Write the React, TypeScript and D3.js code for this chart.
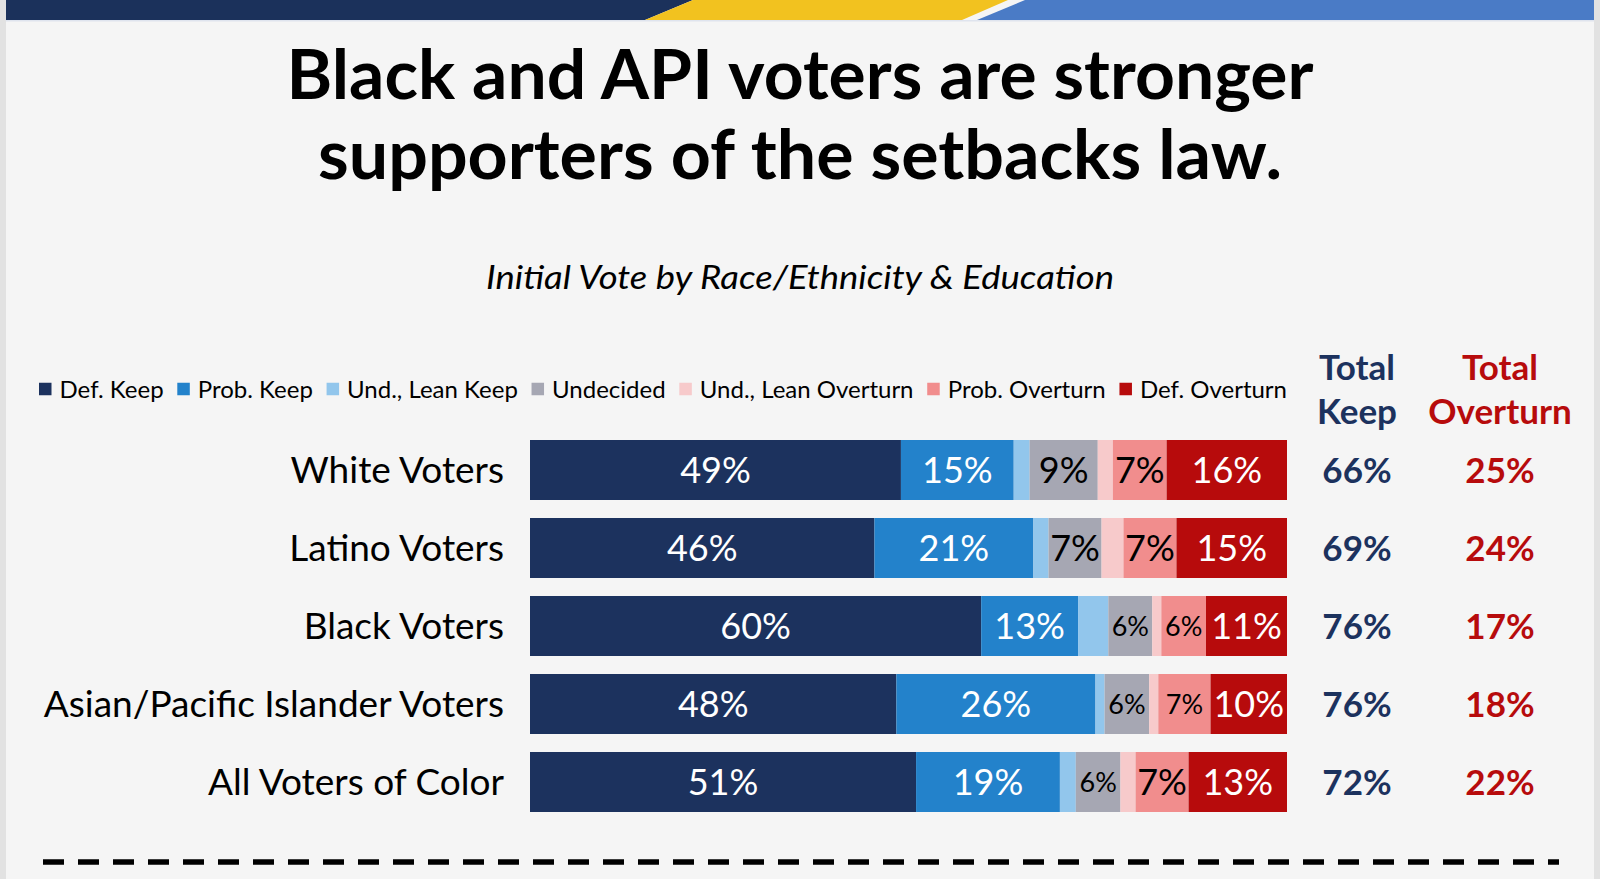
import React, { useEffect, useRef } from "react";
import * as d3 from "d3";

const categories = [
  "White Voters",
  "Latino Voters",
  "Black Voters",
  "Asian/Pacific Islander Voters",
  "All Voters of Color",
];
const seriesNames = [
  "Def. Keep",
  "Prob. Keep",
  "Und., Lean Keep",
  "Undecided",
  "Und., Lean Overturn",
  "Prob. Overturn",
  "Def. Overturn",
];
const defKeep = [49.0, 45.5, 59.6, 48.4, 51.0];
const probKeep = [14.9, 21.0, 12.8, 26.3, 19.0];
const leanKeep = [2.1, 2.0, 4.0, 1.2, 2.1];
const undecided = [9.0, 7.0, 5.8, 5.9, 5.9];
const leanOverturn = [2.0, 2.9, 1.2, 1.2, 2.0];
const probOverturn = [7.1, 7.0, 5.9, 6.9, 7.0];
const defOverturn = [15.9, 14.6, 10.7, 10.1, 13.0];
const totalKeep = [66, 69, 76, 76, 72];
const totalOverturn = [25, 24, 17, 18, 22];

const titleLines = ["Black and API voters are stronger", "supporters of the setbacks law."];
const subtitle = "Initial Vote by Race/Ethnicity & Education";

const seriesColors = ["#1c325e", "#2382cb", "#92c6ec", "#a6a7b3", "#f7cacb", "#f18d8d", "#b70b0c"];
const labelColors = ["#ffffff", "#ffffff", null, "#000000", null, "#000000", "#ffffff"];
const NAVY = "#1c325e";
const RED = "#b70b0c";
const FONT = "Lato, 'Open Sans', sans-serif";

export default function App() {
  const ref = useRef<SVGSVGElement | null>(null);

  useEffect(() => {
    const svg = d3.select(ref.current);
    svg.selectAll("*").remove();
    const W = 1600, H = 879;

    // background
    svg.append("rect").attr("width", W).attr("height", H).attr("fill", "#e2e2e2");
    svg.append("rect").attr("x", 6).attr("y", 0).attr("width", 1588).attr("height", H).attr("fill", "#f5f5f5");

    // banner
    svg.append("polygon").attr("points", "6,0 693,0 645,20 6,20").attr("fill", "#1b315b");
    svg.append("polygon").attr("points", "693,0 1008,0 962,20 645,20").attr("fill", "#f2c21f");
    svg.append("polygon").attr("points", "1025,0 1594,0 1594,20 977,20").attr("fill", "#4a7bc6");
    svg.append("rect").attr("x", 6).attr("y", 20).attr("width", 1588).attr("height", 1.5).attr("fill", "#dfe4ee");

    // title
    const title = svg.append("g").attr("font-family", FONT).attr("font-weight", 700).attr("fill", "#000");
    const titleBaselines = [99, 179];
    const titleWidths = [1027, 964];
    titleLines.forEach((t, i) => {
      title.append("text")
        .attr("x", 800).attr("y", titleBaselines[i])
        .attr("text-anchor", "middle")
        .attr("font-size", 68)
        .attr("textLength", titleWidths[i])
        .attr("lengthAdjust", "spacingAndGlyphs")
        .text(t);
    });
    svg.append("text")
      .attr("x", 800).attr("y", 289)
      .attr("text-anchor", "middle")
      .attr("font-family", FONT).attr("font-style", "italic")
      .attr("font-size", 33)
      .attr("textLength", 628).attr("lengthAdjust", "spacingAndGlyphs")
      .text(subtitle);

    // data
    const series = [defKeep, probKeep, leanKeep, undecided, leanOverturn, probOverturn, defOverturn];
    const rows = categories.map((c, i) => {
      const r: any = { category: c };
      seriesNames.forEach((s, j) => (r[s] = series[j][i]));
      return r;
    });
    const stacked = d3.stack().keys(seriesNames)(rows);

    const x = d3.scaleLinear().domain([0, 100]).range([530, 1287]);
    const y = d3.scaleBand().domain(categories).range([431, 821]).paddingInner(0.2308).paddingOuter(0.1154);
    const bw = y.bandwidth();

    const bars = svg.append("g");
    stacked.forEach((layer, j) => {
      const g = bars.append("g").attr("fill", seriesColors[j]);
      g.selectAll("rect").data(layer).join("rect")
        .attr("x", (d: any) => x(d[0]))
        .attr("y", (d: any) => y(d.data.category)!)
        .attr("width", (d: any) => x(d[1]) - x(d[0]))
        .attr("height", bw);
      if (labelColors[j]) {
        bars.append("g").selectAll("text").data(layer).join("text")
          .attr("x", (d: any) => (x(d[0]) + x(d[1])) / 2)
          .attr("y", (d: any) => {
            const fs = d[1] - d[0] < 7 ? 27 : 36;
            return y(d.data.category)! + bw / 2 + fs * 0.36;
          })
          .attr("text-anchor", "middle")
          .attr("font-family", FONT)
          .attr("font-size", (d: any) => (d[1] - d[0] < 7 ? 27 : 36))
          .attr("fill", labelColors[j]!)
          .text((d: any) => `${Math.round(d[1] - d[0])}%`);
      }
    });

    // row labels
    svg.append("g").selectAll("text").data(categories).join("text")
      .attr("x", 504)
      .attr("y", (d) => y(d)! + bw / 2 + 13)
      .attr("text-anchor", "end")
      .attr("font-family", FONT)
      .attr("font-size", 37)
      .attr("fill", "#000")
      .text((d) => d);

    // totals
    const colKeepX = 1357, colOverX = 1500;
    const hdr = svg.append("g").attr("font-family", FONT).attr("font-weight", 700).attr("font-size", 35).attr("text-anchor", "middle");
    hdr.append("text").attr("x", colKeepX).attr("y", 380).attr("fill", NAVY).text("Total");
    hdr.append("text").attr("x", colKeepX).attr("y", 424).attr("fill", NAVY).text("Keep");
    hdr.append("text").attr("x", colOverX).attr("y", 380).attr("fill", RED).text("Total");
    hdr.append("text").attr("x", colOverX).attr("y", 424).attr("fill", RED).text("Overturn");

    const tot = svg.append("g").attr("font-family", FONT).attr("font-weight", 700).attr("font-size", 35).attr("text-anchor", "middle");
    tot.selectAll("text.k").data(totalKeep).join("text").attr("class", "k")
      .attr("x", colKeepX)
      .attr("y", (d, i) => y(categories[i])! + bw / 2 + 13)
      .attr("fill", NAVY)
      .text((d) => `${d}%`);
    tot.selectAll("text.o").data(totalOverturn).join("text").attr("class", "o")
      .attr("x", colOverX)
      .attr("y", (d, i) => y(categories[i])! + bw / 2 + 13)
      .attr("fill", RED)
      .text((d) => `${d}%`);

    // legend
    const legend = svg.append("g").attr("font-family", FONT).attr("font-size", 24);
    const legendY = 389;
    const sq = 12.5, sqGap = 8;
    const items = seriesNames.map((s, j) => {
      const g = legend.append("g");
      g.append("rect").attr("width", sq).attr("height", sq).attr("y", legendY - sq / 2).attr("fill", seriesColors[j]);
      const t = g.append("text").attr("x", sq + sqGap).attr("y", legendY + 8.5).attr("fill", "#000").text(s);
      const w = (t.node() as SVGTextElement).getComputedTextLength();
      return { g, w: sq + sqGap + w };
    });
    const startX = 39, endX = 1287;
    const totalW = d3.sum(items, (d) => d.w);
    const gap = (endX - startX - totalW) / (items.length - 1);
    let cx = startX;
    items.forEach((it) => {
      it.g.attr("transform", `translate(${cx},0)`);
      cx += it.w + gap;
    });

    // dashed line
    svg.append("line")
      .attr("x1", 43).attr("x2", 1559).attr("y1", 862).attr("y2", 862)
      .attr("stroke", "#000").attr("stroke-width", 5.5)
      .attr("stroke-dasharray", "21 14");
  }, []);

  return (
    <div style={{ position: "absolute", left: 0, top: 0, width: 1600, height: 879, overflow: "hidden" }}>
      <svg ref={ref} width={1600} height={879} style={{ display: "block" }} />
    </div>
  );
}
